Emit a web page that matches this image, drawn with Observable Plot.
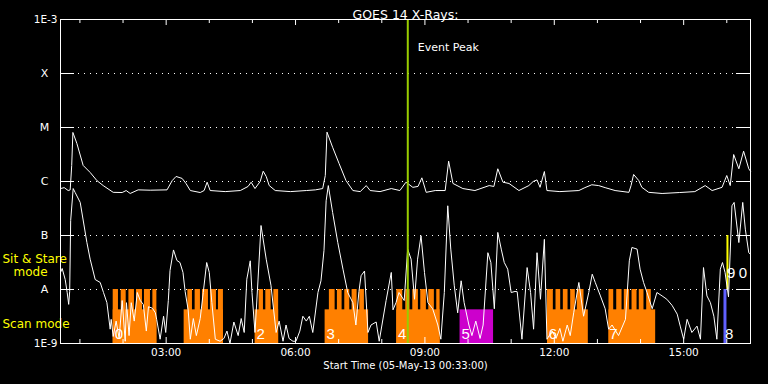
<!DOCTYPE html>
<html><head><meta charset="utf-8">
<script src="https://cdn.jsdelivr.net/npm/d3@7"></script>
<script src="https://cdn.jsdelivr.net/npm/@observablehq/plot@0.6"></script>
<style>html,body{margin:0;padding:0;background:#000;overflow:hidden;}</style>
</head><body><div id="chart"></div>
<script>
// ---- data (times are decimal hours on 05-May-2013 UTC) ----
const titleText = "GOES 14 X-Rays:";
const xAxisTitle = "Start Time (05-May-13 00:33:00)";
const startHour = 0.55, endHour = 16.55;

const longHours = [
  0.55,0.636,0.728,0.775,0.81,0.837,0.93,1.076,1.238,1.394,
  1.54,1.772,1.98,2.073,2.166,2.35,2.63,3.02,3.14,3.23,
  3.37,3.46,3.56,3.79,3.88,3.95,4.02,4.37,4.72,4.9,
  4.97,5.06,5.18,5.25,5.32,5.39,5.53,5.88,6.25,6.46,
  6.63,6.69,6.73,6.86,7.01,7.17,7.33,7.5,7.64,7.73,
  7.96,8.22,8.42,8.56,8.72,8.84,8.93,9.03,9.24,9.47,
  9.55,9.65,9.88,10.16,10.49,10.6,10.69,10.81,10.95,11.18,
  11.41,11.51,11.6,11.67,11.77,11.83,12.13,12.57,12.71,12.87,
  13.03,13.18,13.41,13.73,13.78,13.84,13.96,14.03,14.19,14.5,
  14.91,15.26,15.5,15.66,15.89,16.0,16.08,16.16,16.28,16.39,
  16.51,16.55];
const longFlux = [
  7.4e-7,7.7e-7,6.8e-7,7.0e-7,1.98e-6,8.1e-6,5.06e-6,1.98e-6,1.47e-6,1.04e-6,
  8.4e-7,6.3e-7,6.25e-7,6.8e-7,6.0e-7,7.0e-7,6.9e-7,7.0e-7,1.04e-6,1.24e-6,
  1.14e-6,9.2e-7,6.8e-7,6.25e-7,6.8e-7,9.7e-7,6.8e-7,6.5e-7,6.8e-7,8.1e-7,
  9.7e-7,7.4e-7,1.0e-6,1.55e-6,1.24e-6,8.4e-7,6.8e-7,6.5e-7,6.8e-7,7.0e-7,
  7.4e-7,1.29e-6,8.2e-6,4.3e-6,2.15e-6,1.04e-6,6.8e-7,6.5e-7,8.4e-7,6.8e-7,
  6.5e-7,7.4e-7,6.8e-7,9.7e-7,7.8e-7,8.1e-7,1.17e-6,6.3e-7,6.8e-7,6.8e-7,
  2.38e-6,9.2e-7,7.4e-7,6.8e-7,8.4e-7,8.1e-7,1.72e-6,9.7e-7,9.2e-7,6.8e-7,
  8.4e-7,1.0e-6,1.07e-6,7.8e-7,1.53e-6,6.8e-7,6.5e-7,6.8e-7,7.7e-7,8.7e-7,
  8.4e-7,7.7e-7,6.8e-7,6.3e-7,8.4e-7,1.35e-6,1.04e-6,7.8e-7,6.3e-7,6.0e-7,
  6.25e-7,6.5e-7,8.4e-7,6.8e-7,7.8e-7,1.29e-6,8.4e-7,3.16e-6,1.72e-6,3.64e-6,
  1.72e-6,1.55e-6];

const shortHours = [
  0.55,0.589,0.659,0.705,0.74,0.763,0.786,0.844,0.89,1.007,
  1.162,1.238,1.354,1.47,1.547,1.626,1.702,1.725,1.772,1.84,
  1.91,1.98,2.05,2.08,2.14,2.19,2.26,2.33,2.4,2.47,
  2.54,2.59,2.68,2.75,2.78,2.86,2.94,2.99,3.05,3.09,
  3.17,3.25,3.32,3.39,3.44,3.51,3.56,3.63,3.7,3.79,
  3.86,3.94,4.0,4.06,4.14,4.25,4.34,4.41,4.48,4.57,
  4.67,4.74,4.81,4.87,4.95,4.99,5.06,5.13,5.2,5.32,
  5.43,5.55,5.62,5.71,5.78,5.85,5.94,6.01,6.1,6.17,
  6.25,6.32,6.4,6.52,6.59,6.66,6.71,6.76,6.86,6.98,
  7.1,7.21,7.33,7.4,7.47,7.52,7.6,7.68,7.75,7.87,
  7.94,8.1,8.22,8.26,8.33,8.4,8.52,8.6,8.68,8.76,
  8.83,8.91,8.99,9.07,9.18,9.3,9.37,9.45,9.53,9.6,
  9.68,9.76,9.84,9.91,10.02,10.09,10.18,10.28,10.35,10.46,
  10.53,10.61,10.69,10.77,10.84,10.92,11.0,11.09,11.14,11.25,
  11.37,11.45,11.52,11.6,11.68,11.77,11.83,11.95,12.04,12.13,
  12.2,12.3,12.37,12.45,12.57,12.68,12.8,12.88,12.95,13.07,
  13.18,13.26,13.34,13.49,13.65,13.74,13.8,13.92,13.99,14.07,
  14.15,14.27,14.38,14.5,14.61,14.73,14.85,14.92,15.0,15.08,
  15.19,15.31,15.39,15.46,15.54,15.62,15.7,15.77,15.85,15.9,
  15.96,16.04,16.12,16.17,16.28,16.37,16.43,16.51,16.55];
const shortFlux = [
  2.07e-8,2.45e-8,1.53e-8,8.8e-9,5.3e-9,9.2e-9,1.9e-7,7.4e-7,6.25e-7,4.1e-7,
  7.4e-8,3.64e-8,1.53e-8,1.35e-8,8.8e-9,5.7e-9,1.84e-9,2.8e-9,1.35e-9,2.6e-9,
  1.24e-9,6.25e-9,1.1e-9,5.7e-9,1.4e-9,5.7e-9,2.6e-9,8.8e-9,6.25e-9,5.3e-9,
  1.7e-9,4.8e-9,4.5e-9,3.7e-9,2.8e-9,1.2e-9,3.2e-9,1.6e-9,6.25e-9,2.25e-8,
  5.4e-8,3.44e-8,3.16e-8,2.07e-8,9.2e-9,4.2e-9,1.2e-9,2.9e-9,1.4e-9,2.9e-9,
  8.8e-9,3.16e-8,2.07e-8,5.7e-9,1.2e-9,1.1e-9,1.24e-9,1.7e-9,1.0e-9,2.5e-9,
  1.4e-9,2.9e-9,1.6e-9,1.55e-8,3.4e-8,8.8e-9,1.6e-9,1.5e-8,1.53e-7,3.64e-8,
  1.2e-8,1.6e-9,2.6e-9,1.1e-9,2.2e-9,1.24e-9,1.1e-9,1.1e-9,1.7e-9,3.2e-9,
  2.6e-9,3.2e-9,1.6e-9,8.8e-9,1.45e-8,5.3e-8,4.4e-7,8.4e-7,2.67e-7,7.4e-8,
  2.38e-8,8.8e-9,5.7e-9,2.2e-9,9.2e-9,1.8e-8,2.2e-8,1.6e-9,2.2e-9,2.5e-9,
  1.1e-9,6.25e-9,2.07e-8,4.2e-9,5.7e-9,8.8e-9,6.25e-9,5.6e-8,3.64e-8,6.6e-9,
  3.64e-8,9.9e-8,2.07e-8,5.7e-9,4.4e-9,2.2e-9,1.2e-9,8.8e-9,3.55e-7,5.6e-8,
  1.2e-8,3.7e-9,1.45e-8,5.7e-9,2.2e-9,1.4e-9,2.6e-9,1.24e-9,2.2e-9,4.8e-8,
  3.16e-8,4.4e-9,1.14e-7,5.6e-8,3.16e-8,2.38e-8,8.8e-9,9.2e-9,9.1e-9,1.2e-9,
  2.55e-8,8.8e-9,1.84e-9,4.8e-8,6.6e-9,8.5e-8,1.2e-9,1.7e-9,1.24e-9,1.9e-9,
  1.1e-9,2.2e-9,1.4e-9,3.7e-9,1.35e-8,3.2e-9,8.8e-9,1.92e-8,1.35e-8,7.6e-9,
  4.4e-9,1.84e-9,2.2e-9,1.4e-9,2.8e-9,3.4e-8,6.0e-8,5.6e-8,2.38e-8,1.35e-8,
  8.8e-9,4.4e-9,8.8e-9,7.6e-9,6.6e-9,5.1e-9,3.5e-9,2.1e-9,1.2e-9,2.8e-9,
  1.6e-9,2.1e-9,1.2e-9,2.55e-8,7.6e-9,5.7e-9,3.2e-9,1.2e-9,2.38e-8,3.16e-8,
  2.07e-8,7.3e-9,3.55e-7,4.1e-7,7.4e-8,4.1e-7,1.31e-7,4.8e-8,4.5e-8];

// scan-mode blocks (base) and their raster teeth
const scanStart = [1.772,3.417,5.063,6.686,8.348,11.843,13.269];
const scanEnd   = [2.785,4.328,5.608,7.694,9.352,12.789,14.351];
const scanTeeth = [
  [1.772,1.894],[1.957,2.073],[2.136,2.265],[2.312,2.451],[2.497,2.636],[2.692,2.785],
  [3.503,3.610],[3.672,3.795],[3.842,3.981],[4.027,4.166],[4.213,4.328],
  [5.156,5.256],[5.311,5.434],[5.497,5.608],
  [6.785,6.918],[6.971,7.080],[7.142,7.258],[7.312,7.428],[7.490,7.597],
  [8.348,8.487],[8.556,8.656],[8.719,8.849],[8.904,9.034],[9.090,9.219],[9.275,9.352],
  [11.843,11.978],[12.040,12.149],[12.210,12.319],[12.381,12.488],[12.534,12.689],
  [13.269,13.378],[13.448,13.571],[13.624,13.747],[13.803,13.919],[13.971,14.080],[14.143,14.250]];
const scanBaseTop = 4.2e-9, scanTop = 1e-8;
const otherScan = [9.815,10.592];          // magenta block
const blueBar = [15.935,16.004];           // 1e-9 .. 1e-8
const yellowBar = [16.004,16.05];          // 1e-8 .. 1e-7
const sitStareTop = 1e-7;

const blockLabels = ["0","2","3","4","5","6","7","8"];
const blockLabelHours = [1.904,5.19,6.813,8.471,9.943,11.971,13.369,16.055];
const blockLabelFlux = 1.47e-9;
const upperLabels = ["9","0"];
const upperLabelHours = [16.104,16.376];
const upperLabelFlux = 2.02e-8;

const eventPeakHour = 8.603;

const yTickValues = [1e-9,1e-8,1e-7,1e-6,1e-5,1e-4,1e-3];
const yTickLabels = ["1E-9","A","B","C","M","X","1E-3"];
const gridLevels = [1e-8,1e-7,1e-6,1e-5,1e-4];
const minorHours = [1,2,4,5,7,8,10,11,13,14,16];
const majorHours = [3,6,9,12,15];
const majorLabels = ["03:00","06:00","09:00","12:00","15:00"];

const modeTexts = ["Sit & Stare","mode","Scan mode"];
const modeFlux = [3.7e-8,2.07e-8,2.27e-9];

// ---- build ----
const day = Date.UTC(2013, 4, 5);
const toDate = h => new Date(day + h * 3600e3);
const longData = longHours.map((h,i)=>({t:toDate(h), v:longFlux[i]}));
const n = Math.min(shortHours.length, shortFlux.length);
const shortData = shortHours.slice(0,n).map((h,i)=>({t:toDate(h), v:shortFlux[i]}));
const bases = scanStart.map((s,i)=>({x1:toDate(s), x2:toDate(scanEnd[i]), y1:1e-9, y2:scanBaseTop}));
const teeth = scanTeeth.map(([a,b])=>({x1:toDate(a), x2:toDate(b), y1:1e-9, y2:scanTop}));

const W=768, H=384, mL=60, mR=18, mT=19, mB=41;
const fw = W-mL-mR, fh = H-mT-mB;
const numIdx = yTickLabels.map((l,i)=>i).filter(i=>yTickLabels[i].startsWith("1E"));
const letIdx = yTickLabels.map((l,i)=>i).filter(i=>!yTickLabels[i].startsWith("1E"));

const chart = Plot.plot({
  width: W, height: H,
  marginLeft: mL, marginRight: mR, marginTop: mT, marginBottom: mB,
  style: {background: "black", color: "white", fontFamily: "DejaVu Sans"},
  x: {type: "utc", domain: [toDate(startHour), toDate(endHour)], axis: null},
  y: {type: "log", domain: [1e-9, 1e-3], axis: null},
  marks: [
    Plot.gridY(gridLevels, {stroke: "white", strokeOpacity: 1, strokeDasharray: "1,5"}),
    Plot.rect(bases, {x1:"x1", x2:"x2", y1:"y1", y2:"y2", fill:"#ff8000"}),
    Plot.rect(teeth, {x1:"x1", x2:"x2", y1:"y1", y2:"y2", fill:"#ff8000"}),
    Plot.rect([otherScan], {x1:d=>toDate(d[0]), x2:d=>toDate(d[1]), y1:()=>1e-9, y2:()=>scanBaseTop, fill:"#cc00cc"}),
    Plot.rect([blueBar], {x1:d=>toDate(d[0]), x2:d=>toDate(d[1]), y1:()=>1e-9, y2:()=>scanTop, fill:"#6060ff"}),
    Plot.rect([yellowBar], {x1:d=>toDate(d[0]), x2:d=>toDate(d[1]), y1:()=>scanTop, y2:()=>sitStareTop, fill:"#ffff00"}),
    Plot.line(longData, {x:"t", y:"v", stroke:"white", strokeWidth:1}),
    Plot.line(shortData, {x:"t", y:"v", stroke:"white", strokeWidth:1}),
    Plot.text(blockLabels, {x:(d,i)=>toDate(blockLabelHours[i]), y:()=>blockLabelFlux, text:d=>d, fill:"white", fontSize:15, fontFamily:"Liberation Sans"}),
    Plot.text(upperLabels, {x:(d,i)=>toDate(upperLabelHours[i]), y:()=>upperLabelFlux, text:d=>d, fill:"white", fontSize:15, fontFamily:"Liberation Sans"}),
    Plot.ruleX([eventPeakHour], {x:d=>toDate(d), stroke:"#99cc00", strokeWidth:2}),
    Plot.text(["Event Peak"], {x:()=>toDate(eventPeakHour), frameAnchor:"top", dy:24, dx:10, textAnchor:"start", text:d=>d, fill:"white", fontSize:11}),
    // y ticks (inward) on both sides
    Plot.tickY(yTickValues, {y:d=>d, stroke:"white", insetRight: fw-14}),
    Plot.tickY(yTickValues, {y:d=>d, stroke:"white", insetLeft: fw-14}),
    // x ticks (inward) top and bottom
    Plot.tickX(minorHours, {x:d=>toDate(d), stroke:"white", insetTop: fh-4}),
    Plot.tickX(minorHours, {x:d=>toDate(d), stroke:"white", insetBottom: fh-4}),
    Plot.tickX(majorHours, {x:d=>toDate(d), stroke:"white", insetTop: fh-6}),
    Plot.tickX(majorHours, {x:d=>toDate(d), stroke:"white", insetBottom: fh-6}),
    // y labels
    Plot.text(numIdx, {y:i=>yTickValues[i], text:i=>yTickLabels[i], frameAnchor:"left", textAnchor:"end", dx:-3, fill:"white", fontSize:10.5}),
    Plot.text(letIdx, {y:i=>yTickValues[i], text:i=>yTickLabels[i], frameAnchor:"left", textAnchor:"middle", dx:-16, fill:"white", fontSize:11}),
    // x labels
    Plot.text(majorHours, {x:d=>toDate(d), text:(d,i)=>majorLabels[i], frameAnchor:"bottom", dy:12, fill:"white", fontSize:10.5}),
    Plot.text([xAxisTitle], {frameAnchor:"bottom", dy:25, text:d=>d, fill:"white", fontSize:10}),
    Plot.text([titleText], {frameAnchor:"top", dy:-9, text:d=>d, fill:"white", fontSize:12.5}),
    // mode labels
    Plot.text([0,2], {y:i=>modeFlux[i], text:i=>modeTexts[i], frameAnchor:"left", textAnchor:"start", dx:-58, fill:"#ffff00", fontSize:12}),
    Plot.text([1], {y:i=>modeFlux[i], text:i=>modeTexts[i], frameAnchor:"left", textAnchor:"start", dx:-47, fill:"#ffff00", fontSize:12}),
    Plot.frame({stroke:"white"})
  ]
});
document.getElementById("chart").append(chart);
</script>
</body></html>
